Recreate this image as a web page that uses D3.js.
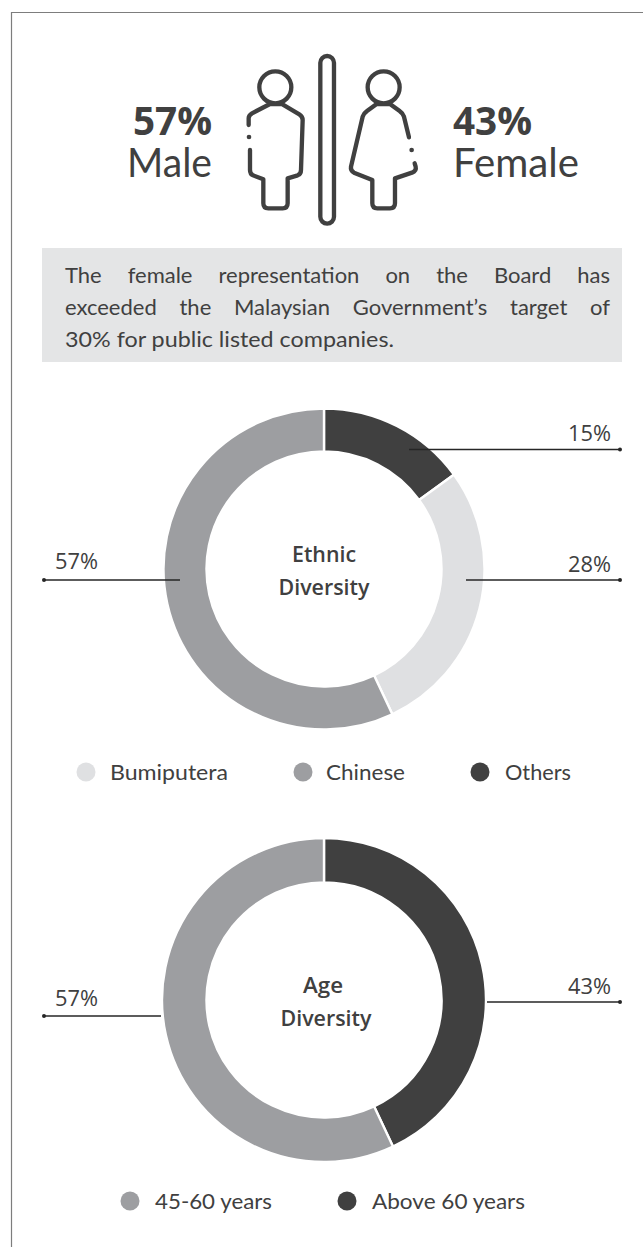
<!DOCTYPE html>
<html>
<head>
<meta charset="utf-8">
<script src="https://cdn.jsdelivr.net/npm/d3@7/dist/d3.min.js"></script>
<style>
  html, body { margin: 0; padding: 0; background: #fff; }
  svg { display: block; }
</style>
</head>
<body>
<svg id="board" width="643" height="1247"></svg>
<script>
// Gender split
const genderLabels = ["Male", "Female"];
const genderValues = [57, 43];

// Ethnic diversity
const ethnicCategories = ["Bumiputera", "Chinese", "Others"];
const ethnicValues = [28, 57, 15];
const ethnicSliceOrder = [2, 0, 1];

// Age diversity
const ageCategories = ["45-60 years", "Above 60 years"];
const ageValues = [57, 43];
const ageSliceOrder = [1, 0];

const noteLines = [
  "The female representation on the Board has",
  "exceeded the Malaysian Government\u2019s target of",
  "30% for public listed companies."
];

const INK = "#404040", MID = "#9d9ea1", LIGHT = "#dfe0e2", PANEL = "#e4e5e6";
const ethnicColor = d3.scaleOrdinal(ethnicCategories, [LIGHT, MID, INK]);
const ageColor = d3.scaleOrdinal(ageCategories, [MID, INK]);
const FONT = "'Open Sans', sans-serif";
const BODY = "Lato, sans-serif";

const svg = d3.select("#board");

// Page rule along the top and left edges
svg.append("path")
  .attr("d", "M11.5 1247V12.5H643")
  .attr("fill", "none").attr("stroke", "#7d7d7d").attr("stroke-width", 1.2);

function label(parent, str, x, y, opts = {}) {
  const t = parent.append("text")
    .attr("x", x).attr("y", y)
    .attr("fill", INK)
    .attr("font-family", opts.family || BODY)
    .attr("font-size", opts.size || 22)
    .attr("font-weight", opts.weight || 400)
    .attr("text-anchor", opts.anchor || "start")
    .text(str);
  if (opts.width) t.attr("textLength", opts.width).attr("lengthAdjust", "spacingAndGlyphs");
  return t;
}

// Headline figure and caption set as one two-line block
function headline(value, name, figureX, nameX, nameWidth) {
  const block = svg.append("text").attr("fill", INK);
  block.append("tspan")
    .attr("x", figureX).attr("y", 135)
    .attr("font-family", FONT).attr("font-size", 39).attr("font-weight", 700)
    .attr("textLength", 79).attr("lengthAdjust", "spacingAndGlyphs")
    .text(value + "%");
  block.append("tspan")
    .attr("x", nameX).attr("y", 177)
    .attr("font-family", BODY).attr("font-size", 41)
    .attr("textLength", nameWidth).attr("lengthAdjust", "spacingAndGlyphs")
    .text(name);
}
headline(genderValues[0], genderLabels[0], 133, 127, 85);
headline(genderValues[1], genderLabels[1], 453, 453, 126);

// Washroom-style pictogram, drawn on a 3x grid
const icon = svg.append("g")
  .attr("transform", "translate(220,50) scale(0.3333)")
  .attr("fill", "none").attr("stroke", INK).attr("stroke-width", 13)
  .attr("stroke-linecap", "round").attr("stroke-linejoin", "round");
icon.append("rect").attr("x", 301).attr("y", 18).attr("width", 41).attr("height", 503).attr("rx", 20.5);
icon.append("circle").attr("cx", 166).attr("cy", 112).attr("r", 48);
icon.append("circle").attr("cx", 491).attr("cy", 112).attr("r", 48);
icon.append("path").attr("d",
  "M86 225V205Q86 196 96 190L150 162H185L238 193Q248 199 248 210L243 360Q243 372 233 376L203 385V460Q203 475 188 475H145Q130 475 130 460V388L99 376Q90 372 90 360V300");
icon.append("path").attr("d",
  "M567 262L552 200Q549 190 540 184L510 162H470L440 184Q431 190 428 200L393 350Q391 362 402 368L457 390V460Q457 475 472 475H510Q525 475 525 460V385L576 368Q590 362 587 350L584 340");
icon.append("g").attr("stroke", "none").attr("fill", INK)
  .selectAll("circle").data([[87, 261], [575, 300]]).join("circle")
  .attr("cx", d => d[0]).attr("cy", d => d[1]).attr("r", 7);

// Note panel with justified copy
svg.append("rect").attr("x", 42).attr("y", 248).attr("width", 580).attr("height", 114).attr("fill", PANEL);
const noteY = d3.scalePoint().domain(noteLines).range([283, 347]);
noteLines.forEach((line, i) => {
  const t = label(svg, line, 65, noteY(line), { size: 22 });
  if (i < 2) {
    const gaps = line.split(" ").length - 1;
    t.attr("word-spacing", (545 - t.node().getComputedTextLength()) / gaps);
  } else {
    t.attr("textLength", 329).attr("lengthAdjust", "spacingAndGlyphs");
  }
});

// One ring with its centre title
function donut(cy, categories, values, order, color, outer, title) {
  const arc = d3.arc().innerRadius(117.5).outerRadius(outer);
  const pie = d3.pie().sort(null).value(i => values[i]);
  svg.append("g").attr("transform", `translate(324,${cy})`)
    .selectAll("path").data(pie(order)).join("path")
    .attr("d", arc)
    .attr("fill", d => color(categories[d.data]))
    .attr("stroke", "#fff").attr("stroke-width", 2.4);
  title.forEach(t => label(svg, t.text, t.x, t.y,
    { family: FONT, size: 21, weight: 600, anchor: "middle", width: t.width }));
}

// Leader line with a dot on its outer end and the value above it
function leader(value, y, x1, x2, dotAt, textX, textY) {
  svg.append("line").attr("x1", x1).attr("x2", x2).attr("y1", y).attr("y2", y)
    .attr("stroke", "#262626").attr("stroke-width", 1.3);
  svg.append("circle").attr("cx", dotAt).attr("cy", y).attr("r", 2).attr("fill", "#262626");
  label(svg, value + "%", textX, textY, { family: FONT, size: 22, width: 43 });
}

function legend(categories, color, cy, baseline, spots) {
  categories.forEach((c, i) => {
    svg.append("circle").attr("cx", spots[i].dot).attr("cy", cy).attr("r", 9.5).attr("fill", color(c));
    label(svg, c, spots[i].text, baseline, { size: 22, width: spots[i].width });
  });
}

donut(569, ethnicCategories, ethnicValues, ethnicSliceOrder, ethnicColor, 160.5, [
  { text: "Ethnic", x: 324, y: 562, width: 64 },
  { text: "Diversity", x: 324, y: 595, width: 91 }
]);
leader(ethnicValues[2], 449.5, 409, 620, 620, 568, 441);
leader(ethnicValues[0], 580, 466, 620, 620, 568, 572);
leader(ethnicValues[1], 580, 44, 180, 44, 55, 569);
legend(ethnicCategories, ethnicColor, 772, 780, [
  { dot: 86, text: 110, width: 118 },
  { dot: 303, text: 326, width: 79 },
  { dot: 480, text: 505, width: 66 }
]);

donut(1000, ageCategories, ageValues, ageSliceOrder, ageColor, 162, [
  { text: "Age", x: 323, y: 993, width: 40 },
  { text: "Diversity", x: 326, y: 1026, width: 91 }
]);
leader(ageValues[0], 1016, 44, 161, 44, 55, 1006);
leader(ageValues[1], 1002, 487, 620, 620, 568, 994);
legend(ageCategories, ageColor, 1201, 1209, [
  { dot: 130, text: 155, width: 117 },
  { dot: 347, text: 372, width: 153 }
]);
</script>
</body>
</html>
